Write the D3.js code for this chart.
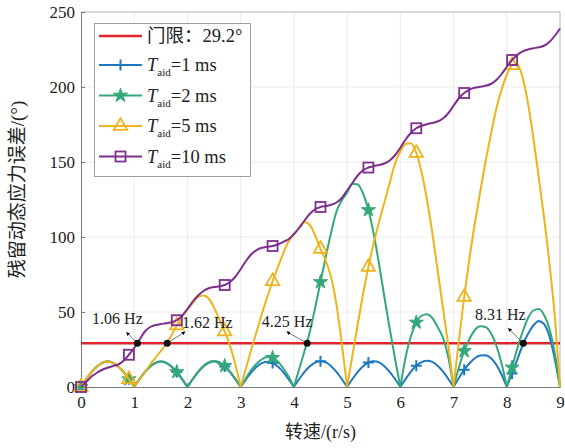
<!DOCTYPE html>
<html>
<head>
<meta charset="utf-8">
<script src="https://cdn.jsdelivr.net/npm/d3@7"></script>
<style>
  html, body { margin: 0; padding: 0; background: #fff; }
  svg { display: block; }
</style>
</head>
<body>
<svg id="chart" width="565" height="448"></svg>
<script>
// Sampling grid of rotation speed (r/s), 0.1 r/s spacing
const speed = d3.range(91).map(i => i / 10);

// Residual dynamic stress error (deg) for each auxiliary time T_aid
const err1ms = [
  0, 5.2, 10, 13.7, 16.1, 17, 16.1, 13.7, 10, 5.2,
  0, 5.2, 10, 13.7, 16.1, 17, 16.1, 13.7, 10, 5.2,
  0, 5.2, 10, 13.7, 16.1, 17, 16.1, 13.7, 10, 5.2,
  0, 5.1, 9.8, 13.5, 15.9, 16.8, 16, 13.6, 9.9, 5.2,
  0, 5.3, 10.1, 13.9, 16.3, 17.2, 16.4, 13.9, 10.1, 5.3,
  0, 5.3, 10.1, 13.9, 16.3, 17.2, 16.4, 13.9, 10.1, 5.3,
  0, 5.4, 10.3, 14.1, 16.6, 17.5, 16.7, 14.2, 10.4, 5.5,
  0, 6, 11.5, 15.8, 19.2, 21, 21.2, 19.3, 15, 8.5,
  0, 9, 18.5, 28, 35.5, 41, 44, 42, 34, 19,
  0
];
const err2ms = [
  0, 5.2, 10, 13.7, 16.1, 17, 16.1, 13.7, 10, 5.2,
  0, 5.2, 10, 13.7, 16.1, 17, 16.1, 13.7, 10, 5.2,
  0, 5.3, 10.2, 14, 16.5, 17.4, 16.6, 14.1, 10.3, 5.4,
  0, 6, 11.5, 15.5, 18.5, 20, 19.5, 17, 12.5, 7,
  0, 12, 24, 37, 53, 70, 87, 103, 117, 124.5,
  129.5, 135.5, 135, 129, 118, 102, 82, 60, 39, 19,
  0, 20, 34, 43, 47.5, 48.5, 46, 40, 33, 20,
  0, 13, 24, 32, 38, 40.5, 40, 36, 28, 16,
  0, 13, 26, 37, 46, 51, 52, 48, 39, 23,
  0
];
const err5ms = [
  0, 5.2, 10, 13.7, 16.1, 17, 16.1, 13.7, 10, 5.2,
  0, 5, 10, 15, 19.5, 24, 28.5, 34.5, 41, 47,
  51.5, 56, 60, 61, 59, 53, 45, 37, 27.5, 15,
  0, 12.5, 25, 37, 49, 60, 70.5, 80, 89, 97,
  101.5, 106.5, 110, 108, 101, 92, 84, 73, 55, 29,
  0, 21, 42, 62, 80, 96, 110, 123, 136, 149,
  157, 162, 162.5, 156, 143, 125, 103, 78, 53, 28,
  0, 31, 60, 86, 109, 130, 150, 168, 185, 198,
  208, 214.5, 215, 206, 189, 166, 140, 113, 83, 48,
  0
];
const err10ms = [
  0, 3.5, 7, 9.5, 11.5, 12.8, 14, 15, 17.5, 21.5,
  26, 31.5, 37, 40, 41.3, 42, 42.5, 43.2, 44.5, 47.5,
  52, 57, 61, 64, 65.8, 66.6, 67.2, 68, 70, 73.5,
  78.5, 84, 88.5, 91.3, 92.8, 93.5, 94, 95, 96.8, 98.5,
  102, 106, 111, 115.5, 118.5, 120, 120.7, 121.5, 123, 126,
  131, 136, 141, 144.5, 146.3, 147.3, 148, 149, 151, 154.5,
  159.5, 165, 169.5, 172.5, 174.2, 175.2, 176, 177, 179, 182.5,
  187.5, 192.5, 196, 198.3, 199.5, 200.2, 200.8, 202, 204.5, 208.5,
  213.5, 218, 221.5, 223.8, 225, 225.8, 226.5, 227.5, 230, 234,
  239
];

const taidValues = [1, 2, 5, 10];          // ms
const threshold = 29.2;                    // deg
const crossings = [1.06, 1.62, 4.25, 8.31]; // speeds where curves meet the threshold
const xTicks = [0, 1, 2, 3, 4, 5, 6, 7, 8, 9];
const yTicks = [0, 50, 100, 150, 200, 250];

// ---- styling ----
const W = 565, H = 448;
const plot = { left: 81, right: 560, top: 12, bottom: 387 };
const SERIF = '"Liberation Serif", "Times New Roman", "Noto Sans CJK SC", serif';
const colors = ["#1f77c0", "#34a878", "#efb41c", "#7e2f8e"];
const red = "#e0262c";
const markerEvery = 9;

const svg = d3.select("#chart");
const x = d3.scaleLinear().domain([0, 9]).range([plot.left, plot.right]);
const y = d3.scaleLinear().domain([0, 250]).range([plot.bottom, plot.top]);

// grid
const grid = svg.append("g");
grid.selectAll("line.gx").data(xTicks.slice(1, -1)).join("line")
  .attr("x1", d => x(d)).attr("x2", d => x(d))
  .attr("y1", plot.top).attr("y2", plot.bottom)
  .attr("stroke", "#ececec").attr("stroke-width", 1);
grid.selectAll("line.gy").data(yTicks.slice(1, -1)).join("line")
  .attr("y1", d => y(d)).attr("y2", d => y(d))
  .attr("x1", plot.left).attr("x2", plot.right)
  .attr("stroke", "#ececec").attr("stroke-width", 1);

// box (top/right lighter)
svg.append("path")
  .attr("d", `M${plot.left},${plot.top}H${plot.right}V${plot.bottom}`)
  .attr("fill", "none").attr("stroke", "#b4b4b4").attr("stroke-width", 1);

// axes
const xAxis = d3.axisBottom(x).tickValues(xTicks).tickSize(-4).tickPadding(9).tickFormat(d3.format("d"));
const yAxis = d3.axisLeft(y).tickValues(yTicks).tickSize(-4).tickPadding(6).tickFormat(d3.format("d"));
const gx = svg.append("g").attr("transform", `translate(0,${plot.bottom})`).call(xAxis);
const gy = svg.append("g").attr("transform", `translate(${plot.left},0)`).call(yAxis);
[gx, gy].forEach(g => {
  g.select(".domain").attr("stroke", "#7a7a7a").attr("stroke-width", 1);
  g.selectAll(".tick line").attr("stroke", "#7a7a7a");
  g.selectAll(".tick text").attr("font-family", SERIF).attr("font-size", 17).attr("fill", "#222");
});

// axis titles
svg.append("text")
  .attr("x", (plot.left + plot.right) / 2).attr("y", 438)
  .attr("text-anchor", "middle")
  .attr("font-family", SERIF).attr("font-size", 18).attr("fill", "#222")
  .text("转速/(r/s)");
svg.append("text")
  .attr("transform", `translate(24,${(plot.top + plot.bottom) / 2 - 10}) rotate(-90)`)
  .attr("text-anchor", "middle")
  .attr("font-family", SERIF).attr("font-size", 19).attr("fill", "#222")
  .text("残留动态应力误差/(°)");

// threshold line
svg.append("line")
  .attr("x1", x(0)).attr("x2", x(9))
  .attr("y1", y(threshold)).attr("y2", y(threshold))
  .attr("stroke", red).attr("stroke-width", 2.5);

// curves: split into lobes at interior zeros so the cusps stay sharp
const line = d3.line().x(d => x(d[0])).y(d => y(d[1])).curve(d3.curveMonotoneX);
function lobes(vals) {
  const out = [];
  let cur = [];
  vals.forEach((v, i) => {
    cur.push([speed[i], v]);
    if (v === 0 && i > 0 && i < vals.length - 1) { out.push(cur); cur = [[speed[i], v]]; }
  });
  if (cur.length > 1) out.push(cur);
  return out.map(seg => line(seg)).join("");
}

// marker shapes
const markers = [
  g => g.append("path").attr("d", "M-5.5,0H5.5M0,-5.5V5.5").attr("fill", "none").attr("stroke-width", 2),
  g => g.append("path").attr("d", d3.symbol(d3.symbolStar, 62)()).attr("stroke-width", 1),
  g => g.append("path").attr("d", d3.symbol(d3.symbolTriangle, 78)()).attr("fill", "none").attr("stroke-width", 1.8),
  g => g.append("rect").attr("x", -5).attr("y", -5).attr("width", 10).attr("height", 10).attr("fill", "none").attr("stroke-width", 1.8)
];

const allSeries = [err1ms, err2ms, err5ms, err10ms];
allSeries.forEach((vals, k) => {
  const g = svg.append("g").attr("stroke", colors[k]).attr("fill", colors[k]);
  g.append("path").attr("d", lobes(vals))
    .attr("fill", "none").attr("stroke-width", 2).attr("stroke-linejoin", "round");
  vals.forEach((v, i) => {
    if (i % markerEvery === 0 && i < vals.length - 1) {
      const mg = g.append("g").attr("transform", `translate(${x(speed[i])},${y(v)})`);
      markers[k](mg);
    }
  });
});

// threshold crossings with labels and pointer arrows
const labelOffsets = [[-20, -25, -11, -11], [40, -21, 18, -11.5], [-20, -21.5, -20.5, -11.5], [-23, -29, -15, -15]];
svg.append("defs").append("marker")
  .attr("id", "arrowhead").attr("viewBox", "0 0 10 10")
  .attr("refX", 9).attr("refY", 5).attr("markerWidth", 5).attr("markerHeight", 5)
  .attr("orient", "auto-start-reverse")
  .append("path").attr("d", "M0,0L10,5L0,10Z").attr("fill", "#111");
crossings.forEach((f, i) => {
  const cx = x(f), cy = y(threshold);
  const [tx, ty, ax, ay] = labelOffsets[i];
  svg.append("line")
    .attr("x1", cx).attr("y1", cy).attr("x2", cx + ax).attr("y2", cy + ay)
    .attr("stroke", "#555").attr("stroke-width", 0.8)
    .attr("marker-end", "url(#arrowhead)");
  svg.append("circle").attr("cx", cx).attr("cy", cy).attr("r", 3.5).attr("fill", "#111");
  svg.append("text")
    .attr("x", cx + tx).attr("y", cy + ty)
    .attr("text-anchor", "middle").attr("dominant-baseline", "central")
    .attr("font-family", SERIF).attr("font-size", 16).attr("fill", "#222")
    .text(`${f.toFixed(2)} Hz`);
});

// legend
const leg = svg.append("g");
leg.append("rect").attr("x", 94.5).attr("y", 23.5).attr("width", 156).attr("height", 153)
  .attr("fill", "#fff").attr("stroke", "#a0a0a0").attr("stroke-width", 1);
const rows = [36, 65, 95.5, 126, 156.5];
leg.append("line").attr("x1", 99).attr("x2", 142).attr("y1", rows[0]).attr("y2", rows[0])
  .attr("stroke", red).attr("stroke-width", 2.5);
leg.append("text").attr("x", 147).attr("y", rows[0]).attr("dominant-baseline", "central")
  .attr("font-family", SERIF).attr("font-size", 18.5).attr("fill", "#222")
  .text(`门限：${threshold}°`);
taidValues.forEach((t, k) => {
  const ry = rows[k + 1];
  const g = leg.append("g").attr("stroke", colors[k]).attr("fill", colors[k]);
  g.append("line").attr("x1", 99).attr("x2", 142).attr("y1", ry).attr("y2", ry).attr("stroke-width", 2);
  markers[k](g.append("g").attr("transform", `translate(120.5,${ry})`));
  const txt = leg.append("text").attr("x", 147).attr("y", ry + 6)
    .attr("font-family", SERIF).attr("font-size", 18.5).attr("fill", "#222");
  txt.append("tspan").attr("font-style", "italic").text("T");
  txt.append("tspan").attr("font-size", 11).attr("dy", 5).text("aid");
  txt.append("tspan").attr("dy", -5).text(`=${t} ms`);
});
</script>
</body>
</html>
